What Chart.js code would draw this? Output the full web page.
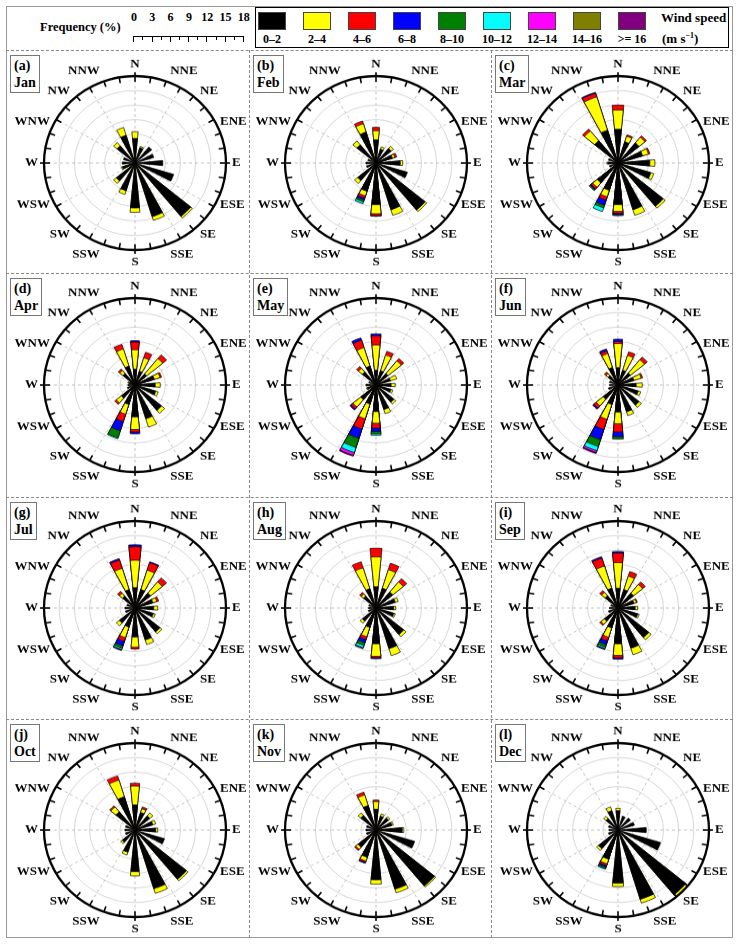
<!DOCTYPE html>
<html>
<head>
<meta charset="utf-8">
<script src="https://cdn.jsdelivr.net/npm/chart.js@4.4.1/dist/chart.umd.min.js"></script>
<style>
  body { margin: 0; background: #fff; }
  #fig { position: relative; width: 742px; height: 948px; overflow: hidden;
         font-family: "Liberation Serif", "Times New Roman", serif; font-weight: bold; color: #000; }
  #fig div { position: absolute; white-space: nowrap; }
  canvas { position: absolute; left: 0; top: 0; }
</style>
</head>
<body>
<div id="fig"></div>
<script>
// 16 compass sectors, clockwise from north
const directions = ['N', 'NNE', 'NE', 'ENE', 'E', 'ESE', 'SE', 'SSE', 'S', 'SSW', 'SW', 'WSW', 'W', 'WNW', 'NW', 'NNW'];
const speedClasses = ['0\u20132', '2\u20134', '4\u20136', '6\u20138', '8\u201310', '10\u201312', '12\u201314', '14\u201316', '>= 16'];
const speedColors = ['#000000', '#ffff00', '#ff0000', '#0000ff', '#008000', '#00ffff', '#ff00ff', '#808000', '#800080'];
const freqTicks = [0, 3, 6, 9, 12, 15, 18];
const months = ['Jan', 'Feb', 'Mar', 'Apr', 'May', 'Jun', 'Jul', 'Aug', 'Sep', 'Oct', 'Nov', 'Dec'];
const panelTags = ['(a)', '(b)', '(c)', '(d)', '(e)', '(f)', '(g)', '(h)', '(i)', '(j)', '(k)', '(l)'];

// frequency (%) per month: one row per speed class (0-2, 2-4, 4-6, ...), columns N..NNW
const jan = [
  [5.1, 3.3, 4.3, 3.9, 5.5, 8.0, 14.3, 11.6, 9.3, 6.0, 4.8, 2.6, 2.5, 2.4, 4.6, 6.0],
  [1.4, 0.3, 0, 0, 0, 0, 0.4, 0.8, 0.9, 0.8, 0.7, 0.2, 0, 0, 0.9, 1.7]
];
const feb = [
  [4.8, 3.0, 3.9, 3.4, 4.8, 6.5, 12.6, 10.1, 8.6, 6.1, 4.7, 2.0, 2.0, 1.7, 4.9, 6.7],
  [1.9, 0.5, 0.6, 0.5, 0.5, 0, 0.4, 1.2, 1.9, 1.0, 0.8, 0, 0, 0, 1.0, 1.8],
  [0.7, 0, 0, 0.4, 0, 0, 0, 0, 0.4, 0.5, 0, 0, 0, 0, 0, 0.6],
  [0, 0, 0, 0, 0, 0, 0, 0, 0.1, 0.4, 0, 0, 0, 0, 0, 0],
  [0, 0, 0, 0, 0, 0, 0, 0, 0, 0.4, 0, 0, 0, 0, 0, 0],
  [0, 0, 0, 0, 0, 0, 0, 0, 0, 0.4, 0, 0, 0, 0, 0, 0]
];
const mar = [
  [7.0, 4.6, 5.4, 5.1, 6.3, 6.8, 11.6, 10.1, 8.6, 5.9, 5.3, 1.8, 2.0, 2.0, 6.0, 7.1],
  [4.0, 1.2, 1.5, 1.2, 1.0, 0.6, 0.5, 1.2, 1.4, 1.4, 1.2, 0, 0.2, 0, 2.6, 7.2],
  [1.0, 0.3, 0.4, 0.3, 0, 0, 0, 0, 0.4, 0.7, 0.4, 0, 0, 0, 0.5, 0.8],
  [0, 0, 0, 0, 0, 0, 0, 0, 0.3, 1.1, 0.2, 0, 0, 0, 0, 0.2],
  [0, 0, 0, 0, 0, 0, 0, 0, 0.2, 0.6, 0.3, 0, 0, 0, 0, 0],
  [0, 0, 0, 0, 0, 0, 0, 0, 0, 0.8, 0, 0, 0, 0, 0, 0]
];
const apr = [
  [3.3, 3.0, 3.0, 4.0, 4.0, 4.3, 6.8, 7.3, 6.6, 4.2, 3.5, 1.6, 1.4, 1.3, 3.1, 4.1],
  [4.0, 2.9, 4.1, 1.2, 1.0, 0.5, 0.8, 1.8, 2.6, 2.1, 1.3, 0, 0, 0.2, 0.8, 3.7],
  [1.6, 1.2, 1.0, 0.3, 0, 0, 0, 0, 0.5, 1.6, 0.4, 0, 0, 0, 0.4, 1.0],
  [0.3, 0, 0, 0, 0, 0, 0, 0, 0.4, 2.0, 0, 0, 0, 0, 0, 0],
  [0, 0, 0, 0, 0, 0, 0, 0, 0, 1.5, 0, 0, 0, 0, 0, 0],
  [0, 0, 0, 0, 0, 0, 0, 0, 0, 0.2, 0, 0, 0, 0, 0, 0]
];
const may = [
  [3.1, 3.1, 3.1, 3.0, 3.0, 3.1, 4.6, 5.3, 5.5, 4.1, 3.9, 1.8, 2.0, 1.5, 3.5, 4.1],
  [5.2, 3.4, 3.4, 1.3, 0.8, 0.4, 0.5, 0.9, 2.4, 3.2, 2.0, 0.2, 0, 0, 1.0, 4.0],
  [1.9, 0.8, 0.6, 0, 0, 0, 0, 0, 1.0, 2.2, 0.5, 0, 0, 0, 0.5, 1.6],
  [0.4, 0, 0, 0, 0, 0, 0, 0, 0.7, 2.0, 0.3, 0, 0, 0, 0, 0.5],
  [0, 0, 0, 0, 0, 0, 0, 0, 0.5, 2.0, 0, 0, 0, 0, 0, 0],
  [0, 0, 0, 0, 0, 0, 0, 0, 0.3, 1.1, 0, 0, 0, 0, 0, 0],
  [0, 0, 0, 0, 0, 0, 0, 0, 0, 0.6, 0, 0, 0, 0, 0, 0],
  [0, 0, 0, 0, 0, 0, 0, 0, 0, 0, 0, 0, 0, 0, 0, 0],
  [0, 0, 0, 0, 0, 0, 0, 0, 0, 0.2, 0, 0, 0, 0, 0, 0]
];
const jun = [
  [3.6, 3.2, 3.2, 3.3, 3.6, 4.2, 5.4, 5.8, 5.6, 4.2, 3.8, 2.0, 1.7, 1.8, 2.5, 3.8],
  [5.0, 3.2, 3.6, 1.5, 1.2, 0.5, 0.6, 0.8, 2.4, 3.2, 1.8, 0, 0, 0, 0.6, 3.0],
  [0.4, 0.8, 0.7, 0.3, 0, 0, 0, 0, 1.7, 2.2, 0.6, 0, 0, 0, 0.4, 0.6],
  [0.5, 0, 0, 0, 0, 0, 0, 0, 1.0, 2.2, 0.3, 0, 0, 0, 0, 0.4],
  [0, 0, 0, 0, 0, 0, 0, 0, 0.5, 1.5, 0, 0, 0, 0, 0, 0],
  [0, 0, 0, 0, 0, 0, 0, 0, 0, 0.9, 0, 0, 0, 0, 0, 0],
  [0, 0, 0, 0, 0, 0, 0, 0, 0, 0.4, 0, 0, 0, 0, 0, 0],
  [0, 0, 0, 0, 0, 0, 0, 0, 0, 0, 0, 0, 0, 0, 0, 0],
  [0, 0, 0, 0, 0, 0, 0, 0, 0, 0.2, 0, 0, 0, 0, 0, 0]
];
const jul = [
  [4.2, 4.0, 4.0, 3.7, 3.7, 3.8, 6.4, 6.9, 6.0, 4.1, 4.0, 2.0, 2.0, 1.7, 3.2, 4.0],
  [5.7, 4.2, 3.0, 0.8, 0.8, 0.4, 0.5, 1.0, 2.1, 2.3, 0.8, 0, 0, 0, 0.8, 4.6],
  [2.8, 1.6, 1.1, 0.4, 0, 0, 0, 0, 0.4, 0.8, 0, 0, 0, 0, 0.5, 1.8],
  [0.4, 0.2, 0, 0, 0, 0, 0, 0, 0, 1.0, 0, 0, 0, 0, 0, 0.3],
  [0, 0, 0, 0, 0, 0, 0, 0, 0, 0.5, 0, 0, 0, 0, 0, 0],
  [0, 0, 0, 0, 0, 0, 0, 0, 0, 0.3, 0, 0, 0, 0, 0, 0],
  [0, 0, 0, 0, 0, 0, 0, 0, 0, 0, 0, 0, 0, 0, 0, 0],
  [0, 0, 0, 0, 0, 0, 0, 0, 0, 0, 0, 0, 0, 0, 0, 0],
  [0, 0, 0, 0, 0, 0, 0, 0, 0, 0.2, 0, 0, 0, 0, 0, 0]
];
const aug = [
  [4.4, 4.3, 4.3, 4.0, 3.5, 3.7, 7.1, 8.8, 7.4, 4.2, 3.5, 1.6, 1.5, 1.5, 3.2, 4.2],
  [6.2, 4.0, 2.7, 0.6, 0.4, 0.3, 0.6, 1.5, 2.6, 2.0, 0.6, 0, 0, 0, 0.6, 4.5],
  [1.8, 1.4, 0.9, 0, 0, 0, 0, 0, 0.3, 0.6, 0, 0, 0, 0, 0.4, 1.3],
  [0, 0, 0, 0, 0, 0, 0, 0, 0.2, 0.7, 0, 0, 0, 0, 0, 0],
  [0, 0, 0, 0, 0, 0, 0, 0, 0, 0.6, 0, 0, 0, 0, 0, 0],
  [0, 0, 0, 0, 0, 0, 0, 0, 0, 0.5, 0, 0, 0, 0, 0, 0],
  [0, 0, 0, 0, 0, 0, 0, 0, 0, 0, 0, 0, 0, 0, 0, 0],
  [0, 0, 0, 0, 0, 0, 0, 0, 0, 0, 0, 0, 0, 0, 0, 0],
  [0, 0, 0, 0, 0, 0, 0, 0, 0, 0.2, 0, 0, 0, 0, 0, 0]
];
const sep = [
  [4.1, 4.0, 4.0, 3.3, 3.4, 4.1, 7.9, 8.7, 7.4, 4.3, 3.5, 2.0, 1.7, 1.5, 3.3, 4.3],
  [5.3, 2.9, 2.3, 0.5, 0.5, 0.3, 0.6, 1.4, 2.4, 2.0, 0.9, 0, 0, 0, 0.9, 4.8],
  [2.0, 1.0, 0.7, 0.2, 0, 0, 0, 0, 0.5, 0.8, 0.3, 0, 0, 0, 0.5, 1.7],
  [0.3, 0, 0, 0, 0, 0, 0, 0, 0.3, 0.8, 0, 0, 0, 0, 0, 0.3],
  [0, 0, 0, 0, 0, 0, 0, 0, 0, 0.6, 0, 0, 0, 0, 0, 0],
  [0, 0, 0, 0, 0, 0, 0, 0, 0, 0.3, 0, 0, 0, 0, 0, 0],
  [0, 0, 0, 0, 0, 0, 0, 0, 0, 0, 0, 0, 0, 0, 0, 0],
  [0, 0, 0, 0, 0, 0, 0, 0, 0, 0, 0, 0, 0, 0, 0, 0],
  [0, 0, 0, 0, 0, 0, 0, 0, 0, 0.2, 0, 0, 0, 0, 0, 0]
];
const oct = [
  [5.2, 3.8, 3.8, 3.7, 4.1, 6.1, 13.2, 12.7, 8.6, 4.8, 3.3, 2.0, 2.0, 2.0, 4.9, 7.2],
  [3.9, 0.8, 0.8, 0.6, 0.4, 0, 0.4, 1.0, 0.9, 0.6, 0.4, 0, 0, 0, 1.3, 3.6],
  [0.6, 0.4, 0, 0, 0, 0, 0, 0, 0, 0, 0, 0, 0, 0, 0.3, 0.9]
];
const nov = [
  [4.3, 3.0, 3.2, 3.3, 5.2, 8.0, 15.0, 12.8, 10.3, 5.9, 4.6, 2.0, 2.0, 2.0, 3.9, 5.3],
  [1.6, 0.5, 0.4, 0.3, 0.3, 0, 0.3, 0.8, 0.9, 0.8, 0.6, 0, 0, 0, 0.7, 2.3],
  [0.3, 0, 0, 0, 0, 0, 0, 0, 0, 0.3, 0.3, 0, 0, 0, 0, 0.6],
  [0, 0, 0, 0, 0, 0, 0, 0, 0, 0.2, 0, 0, 0, 0, 0, 0]
];
const dec = [
  [4.0, 3.0, 3.2, 3.4, 5.6, 8.8, 17.4, 15.0, 11.0, 6.3, 5.0, 2.0, 1.8, 2.0, 3.1, 4.2],
  [0.5, 0, 0, 0, 0, 0, 0.4, 0.8, 0.7, 1.0, 0.5, 0, 0, 0, 0.6, 0.8],
  [0, 0, 0, 0, 0, 0, 0, 0, 0, 0.4, 0, 0, 0, 0, 0, 0],
  [0, 0, 0, 0, 0, 0, 0, 0, 0, 0.3, 0, 0, 0, 0, 0, 0],
  [0, 0, 0, 0, 0, 0, 0, 0, 0, 0.3, 0, 0, 0, 0, 0, 0],
  [0, 0, 0, 0, 0, 0, 0, 0, 0, 0.2, 0, 0, 0, 0, 0, 0]
];
const monthData = [jan, feb, mar, apr, may, jun, jul, aug, sep, oct, nov, dec];

const fig = document.getElementById('fig');
function el(css, text) {
  const e = document.createElement('div');
  e.style.cssText = css;
  if (text != null) e.textContent = text;
  fig.appendChild(e);
  return e;
}

// frame and dashed panel separators
el('left:6px;top:6px;width:727px;height:932px;border:1px solid #999;box-sizing:border-box');
[50, 273, 497, 719].forEach(y => el(`left:6px;top:${y}px;width:727px;height:0;border-top:1px dashed #888`));
[249, 491].forEach(x => el(`left:${x}px;top:50px;width:0;height:888px;border-left:1px dashed #888`));

// frequency scale bar
el('left:40px;top:20px;font-size:12.5px', 'Frequency (%)');
const barX0 = 134, barPx = 6.1;
freqTicks.forEach(v => {
  el(`left:${barX0 + v * barPx - 10}px;top:10px;width:20px;text-align:center;font-size:12px`, String(v));
});
el(`left:${barX0}px;top:36px;width:${18 * barPx}px;height:0;border-top:1.5px solid #000`);
for (let v = 0; v <= 18; v += 1.5) {
  const major = v % 3 === 0;
  el(`left:${barX0 + v * barPx - 0.75}px;top:36px;width:0;height:${major ? 6 : 3.5}px;border-left:1.5px solid #000`);
}

// speed legend
el('left:255px;top:7px;width:474px;height:41px;border:1px solid #000;box-sizing:border-box');
speedClasses.forEach((name, i) => {
  const x = 258 + 45 * i;
  el(`left:${x}px;top:12px;width:28px;height:18px;background:${speedColors[i]};border:1px solid #444;box-sizing:border-box`);
  el(`left:${x - 8}px;top:32px;width:44px;text-align:center;font-size:12px`, name);
});
el('left:661px;top:10px;font-size:13px', 'Wind speed');
const unit = el('left:662px;top:31px;font-size:13px');
unit.innerHTML = '(m s<sup style="font-size:8px;vertical-align:5px">\u22121</sup>)';

// wedge geometry: arcs start at north and run clockwise
const barAngle = 11;
const sectorAngle = 22.5;
const entryDir = [null];
const entryAngle = [sectorAngle - barAngle / 2];
for (let k = 1; k < 16; k++) {
  entryDir.push(k, null);
  entryAngle.push(barAngle, sectorAngle - barAngle);
}
entryDir.push(0);
entryAngle.push(barAngle);

// outer ticks every 10 degrees and compass labels around the scale
const roseFrame = {
  id: 'roseFrame',
  afterDraw(chart) {
    const s = chart.scales.r;
    const ctx = chart.ctx;
    const R = s.drawingArea, cx = s.xCenter, cy = s.yCenter;
    ctx.save();
    ctx.strokeStyle = '#000';
    ctx.lineWidth = 1.6;
    for (let d = 0; d < 360; d += 10) {
      const a = (d - 90) * Math.PI / 180;
      const major = d % 90 === 0;
      const r0 = R - 6, r1 = major ? R + 4 : R;
      ctx.beginPath();
      ctx.moveTo(cx + r0 * Math.cos(a), cy + r0 * Math.sin(a));
      ctx.lineTo(cx + r1 * Math.cos(a), cy + r1 * Math.sin(a));
      ctx.stroke();
    }
    ctx.font = 'bold 13px "Liberation Serif", serif';
    ctx.fillStyle = '#000';
    ctx.textBaseline = 'middle';
    directions.forEach((name, k) => {
      const a = k * sectorAngle * Math.PI / 180;
      const sn = Math.sin(a), cs = Math.cos(a);
      const side = Math.abs(sn) < 1e-6 ? 0 : Math.sign(sn);
      const vert = Math.abs(cs) < 1e-6 ? 0 : Math.sign(cs);
      ctx.textAlign = side === 0 ? 'center' : side > 0 ? 'left' : 'right';
      const x = cx + (R + (vert === 0 ? 6 : 1)) * sn;
      const y = cy - (R + 6) * cs - vert * 6.5;
      ctx.fillText(name, x, y);
    });
    ctx.restore();
  }
};

const centersX = [134.7, 376, 618];
const centersY = [163, 385.5, 608, 830];
const panelLeft = [6, 249, 491];
const panelTop = [50, 273, 497, 719];
const squeeze = 0.956; // the original rose is slightly flatter than round

monthData.forEach((rows, m) => {
  const col = m % 3, row = Math.floor(m / 3);
  const holder = el(`left:${Math.round(centersX[col] - 120)}px;top:${centersY[row] - 113 * squeeze}px;width:240px;height:226px;transform:scaleY(${squeeze});transform-origin:0 0`);
  const canvas = document.createElement('canvas');
  canvas.width = 240;
  canvas.height = 226;
  holder.appendChild(canvas);

  // cumulative frequencies so each speed class sits on top of the slower ones
  let run = directions.map(() => 0);
  const datasets = speedColors.map((color, j) => {
    const part = rows[j] || [];
    run = run.map((v, k) => v + (part[k] || 0));
    const cum = run.slice();
    return {
      label: speedClasses[j],
      data: entryDir.map(k => (k === null || !(part[k] > 0)) ? 0 : cum[k]),
      backgroundColor: color,
      borderColor: '#000',
      borderWidth: c => c.raw > 0 ? 0.7 : 0,
      angle: entryAngle
    };
  });

  new Chart(canvas, {
    type: 'polarArea',
    data: { labels: entryDir.map(k => k === null ? '' : directions[k]), datasets },
    options: {
      responsive: false,
      animation: false,
      events: [],
      layout: { padding: { left: 29, right: 29, top: 22, bottom: 22 } },
      plugins: { legend: { display: false }, tooltip: { enabled: false } },
      scales: {
        r: {
          min: 0,
          max: 18,
          startAngle: 0,
          labels: Array(12).fill(''),
          ticks: { display: false, stepSize: 3 },
          grid: {
            circular: true,
            color: c => c.tick.value >= 18 ? '#000' : '#cccccc',
            lineWidth: c => c.tick.value >= 18 ? 2.3 : 0.8
          },
          angleLines: { display: true, color: '#b4b4b4', lineWidth: 0.8, borderDash: [3, 3] },
          pointLabels: { display: false }
        }
      }
    },
    plugins: [roseFrame]
  });

  const tag = el(`left:${panelLeft[col] + 4}px;top:${panelTop[row] + 5}px;padding:1px 3px;border:1px solid #777;font-size:14px;line-height:17px;background:#fff`);
  tag.innerHTML = panelTags[m] + '<br>' + months[m];
});
</script>
</body>
</html>
